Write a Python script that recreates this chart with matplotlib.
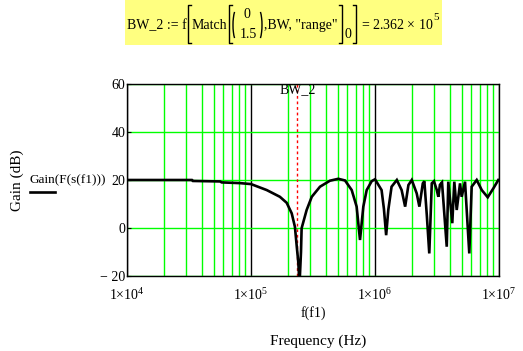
import matplotlib
matplotlib.use("Agg")
import matplotlib.pyplot as plt
from matplotlib.patches import Rectangle, Arc
from matplotlib.lines import Line2D
from matplotlib.ticker import LogLocator, NullFormatter, FixedLocator

plt.rcParams['font.family'] = ['Liberation Serif', 'DejaVu Serif']
plt.rcParams['mathtext.fontset'] = 'custom'
plt.rcParams['mathtext.rm'] = 'Liberation Serif'
plt.rcParams['mathtext.it'] = 'Liberation Serif:italic'

# ---- data ----
freq_hz = [1.0e4, 1.85e4, 3.34e4, 3.40e4, 5.63e4, 5.8e4, 8.15e4, 1.0e5, 1.34e5, 1.71e5,
           1.94e5, 2.13e5, 2.26e5, 2.34e5, 2.41e5, 2.46e5, 2.53e5, 2.56e5, 2.81e5, 3.09e5,
           3.60e5, 4.33e5, 5.06e5, 5.73e5, 6.49e5, 7.11e5, 7.57e5, 8.05e5, 8.57e5, 9.40e5,
           1.00e6, 1.13e6, 1.18e6, 1.23e6, 1.28e6, 1.36e6, 1.50e6, 1.64e6, 1.75e6, 1.86e6,
           1.98e6, 2.17e6, 2.28e6, 2.43e6, 2.50e6, 2.62e6, 2.74e6, 2.87e6, 2.99e6, 3.15e6,
           3.24e6, 3.34e6, 3.47e6, 3.79e6, 3.90e6, 4.20e6, 4.36e6, 4.56e6, 4.85e6, 5.00e6,
           5.32e6, 5.76e6, 6.02e6, 6.61e6, 7.26e6, 8.11e6, 9.00e6, 9.87e6]
gain_db = [20.0, 20.0, 20.0, 19.6, 19.4, 19.0, 18.7, 18.3, 15.8, 13.0,
           10.5, 6.1, 0.5, -7.8, -14.6, -24.0, -10.0, -0.1, 7.5, 13.0,
           17.2, 19.7, 20.5, 19.8, 15.8, 8.9, -5.0, 8.9, 15.8, 19.5,
           20.3, 15.8, 8.0, -3.0, 7.5, 17.2, 20.0, 15.8, 8.9, 17.9,
           20.0, 14.4, 8.9, 18.6, 19.5, 5.0, -10.6, 18.6, 19.5, 15.8,
           13.0, 18.0, 19.0, -7.8, 19.3, 2.0, 19.3, 7.5, 18.6, 13.0,
           19.3, -10.6, 17.2, 20.0, 15.8, 12.8, 16.5, 20.0]
bw_2 = 2.362e5
x_ticks = [1e4, 1e5, 1e6, 1e7]
x_tick_labels = [r'$\mathregular{1{\times}10^{4}}$', r'$\mathregular{1{\times}10^{5}}$',
                 r'$\mathregular{1{\times}10^{6}}$', r'$\mathregular{1{\times}10^{7}}$']
y_ticks = [-20, 0, 20, 40, 60]
y_tick_labels = ['\u2212 20', '0', '20', '40', '60']

W, H = 523, 351
fig = plt.figure(figsize=(W / 100, H / 100), dpi=100)


def fx(x):
    return x / W


def fy(y):
    return 1 - y / H


# yellow header box
fig.patches.append(Rectangle((fx(125), fy(45)), (442 - 125) / W, 45 / H,
                             transform=fig.transFigure, facecolor='#ffff80',
                             edgecolor='none', zorder=0))


def htext(x, y, s, **kw):
    fig.text(fx(x), fy(y), s, ha='left', va='baseline', fontsize=10, color='black', **kw)


def bracket(x, y0, y1, opening=True):
    d = 3 if opening else -3
    fig.lines.append(Line2D([fx(x + d), fx(x), fx(x), fx(x + d)],
                            [fy(y0), fy(y0), fy(y1), fy(y1)],
                            transform=fig.transFigure, color='black', lw=1.0))


base = 29
htext(127, base, 'BW_2 := f')
bracket(187.5, 5, 43)
htext(192, base, 'Match')
bracket(229, 5, 43)
fig.patches.append(Arc((fx(238), fy(25)), 10 / W, 36 / H, theta1=100, theta2=260,
                       transform=fig.transFigure, color='black', lw=1.0))
fig.patches.append(Arc((fx(257), fy(25)), 10 / W, 36 / H, theta1=-80, theta2=80,
                       transform=fig.transFigure, color='black', lw=1.0))
fig.text(fx(247), fy(14), '0', ha='center', va='center', fontsize=10)
fig.text(fx(248), fy(35), '1.5', ha='center', va='center', fontsize=10)
htext(264, base, ',BW, "range"')
bracket(342, 5, 43, opening=False)
fig.text(fx(347.5), fy(34), '0', ha='center', va='center', fontsize=10)
bracket(356, 5, 43, opening=False)
htext(361, base, r'= 2.362 $\mathregular{\times}$ 10')
fig.text(fx(433.5), fy(17), '5', ha='left', va='center', fontsize=8)

L, R, T, B = 127, 499, 84, 276
ax = fig.add_axes([L / W, 1 - B / H, (R - L) / W, (B - T) / H])
ax.set_xscale('log')
ax.set_xlim(1e4, 1e7)
ax.set_ylim(-20, 60)

ax.xaxis.set_major_locator(FixedLocator(x_ticks))
ax.set_xticklabels(x_tick_labels)
ax.xaxis.set_minor_locator(LogLocator(base=10, subs=[2, 3, 4, 5, 6, 7, 8, 9]))
ax.xaxis.set_minor_formatter(NullFormatter())
ax.set_yticks(y_ticks)
ax.set_yticklabels(y_tick_labels)
ax.tick_params(axis='x', which='both', length=0, labelsize=10, pad=8)
ax.tick_params(axis='y', which='both', length=3, direction='in', labelsize=10, pad=1)

ax.grid(True, which='major', axis='x', color='black', lw=1.0)
ax.grid(True, which='minor', axis='x', color='#00ff00', lw=1.0)
ax.grid(True, which='major', axis='y', color='#00ff00', lw=1.0)
ax.set_axisbelow(True)
for s in ax.spines.values():
    s.set_color('black')
    s.set_linewidth(1.0)

ax.plot(freq_hz, gain_db, color='black', lw=1.9, solid_joinstyle='miter', zorder=3)
ax.axvline(bw_2, color='#ff0000', lw=1.0, linestyle=(0, (2, 2)), zorder=2)
ax.text(bw_2, 57.5, 'BW_2', ha='center', va='center', fontsize=10, color='black')

ax.set_xlabel('f(f1)', fontsize=10, labelpad=2)
fig.text(fx(318), fy(341), 'Frequency (Hz)', ha='center', va='center', fontsize=11)
fig.text(fx(17), fy(180), 'Gain (dB)', ha='center', va='center', fontsize=11, rotation=90)
fig.text(fx(30), fy(180), 'Gain(F(s(f1)))', ha='left', va='center', fontsize=9.5)
fig.lines.append(Line2D([fx(30), fx(55)], [fy(191.5), fy(191.5)], transform=fig.transFigure,
                        color='black', lw=1.9))

fig.savefig('out.png', dpi=100)
